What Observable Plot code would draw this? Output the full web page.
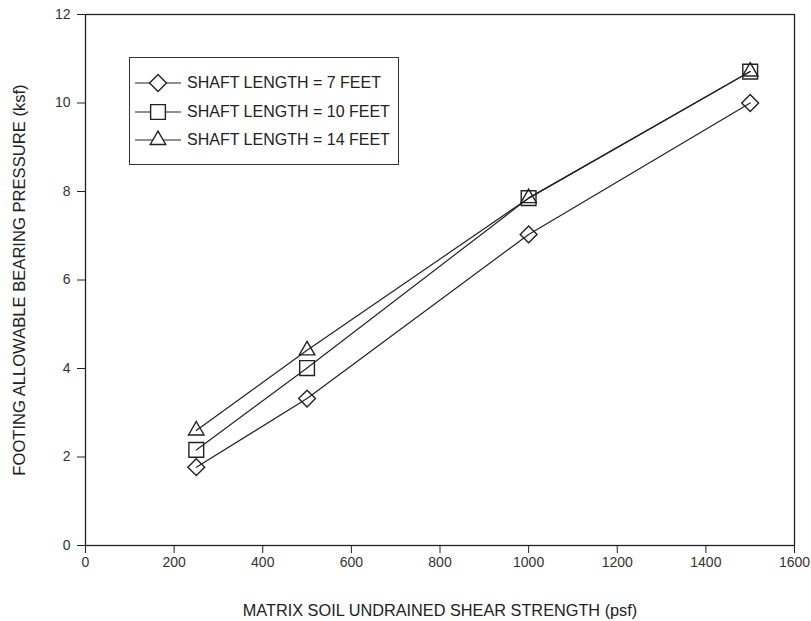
<!DOCTYPE html>
<html>
<head>
<meta charset="utf-8">
<script src="https://cdn.jsdelivr.net/npm/d3@7"></script>
<script src="https://cdn.jsdelivr.net/npm/@observablehq/plot@0.6"></script>
<style>
  body { margin: 0; background: #fff; font-family: "Liberation Sans", Arial, sans-serif; }
  #wrap { position: relative; width: 811px; height: 621px; }
  #legend { position: absolute; left: 129px; top: 57px; width: 270px; height: 108px;
            border: 1px solid #333; background: #fff; box-sizing: border-box; padding-top: 11px; }
  .row { display: flex; align-items: center; height: 28.5px; font-size: 16px; color: #222; }
  .row svg { margin-left: 5px; margin-right: 6px; }
</style>
</head>
<body>
<div id="wrap"><div id="legend"></div></div>
<script>
const strength = [250, 500, 1000, 1500];
const seriesNames = ["SHAFT LENGTH = 7 FEET", "SHAFT LENGTH = 10 FEET", "SHAFT LENGTH = 14 FEET"];
const pressure7 = [1.77, 3.32, 7.03, 10.0];
const pressure10 = [2.16, 4.01, 7.85, 10.71];
const pressure14 = [2.6, 4.41, 7.85, 10.71];
const xTicks = [0, 200, 400, 600, 800, 1000, 1200, 1400, 1600];
const yTicks = [0, 2, 4, 6, 8, 10, 12];
const symbols = ["diamond2", "square2", "triangle2"];
const radii = [7.6, 9.4, 7.4];

const seriesValues = [pressure7, pressure10, pressure14];
const data = seriesValues.flatMap((vals, i) =>
  vals.map((v, j) => ({series: seriesNames[i], x: strength[j], y: v, k: i})));

const ink = "#222";
const chart = Plot.plot({
  width: 811, height: 621,
  marginLeft: 85, marginRight: 17, marginTop: 14, marginBottom: 76,
  style: {fontFamily: "'Liberation Sans', Arial, sans-serif", fontSize: "14px", color: ink, background: "#fff"},
  x: {domain: [0, 1600]},
  y: {domain: [0, 12]},
  marks: [
    Plot.frame({stroke: ink, strokeWidth: 1.3}),
    Plot.axisX({ticks: xTicks, tickFormat: d3.format("d"), tickSize: 8, tickPadding: 4, fontSize: 14, stroke: ink, fill: "#333", label: null}),
    Plot.axisX({ticks: [], label: "MATRIX SOIL UNDRAINED SHEAR STRENGTH (psf)", labelAnchor: "center", labelOffset: 70, labelArrow: "none", fontSize: 16.3, fill: "#222"}),
    Plot.axisY({ticks: yTicks, tickFormat: d3.format("d"), tickSize: 8, tickPadding: 7, fontSize: 14, stroke: ink, fill: "#333", label: null}),
    Plot.axisY({ticks: [], label: "FOOTING ALLOWABLE BEARING PRESSURE (ksf)", labelAnchor: "center", labelOffset: 72, labelArrow: "none", fontSize: 16.6, fill: "#222"}),
    ...seriesNames.map((name, i) => Plot.line(data.filter(d => d.k === i), {x: "x", y: "y", stroke: ink, strokeWidth: 1.2})),
    ...seriesNames.map((name, i) => Plot.dot(data.filter(d => d.k === i), {x: "x", y: "y", symbol: () => symbols[i], r: radii[i], stroke: ink, strokeWidth: 1.4, fill: "none"}))
  ]
});
document.getElementById("wrap").prepend(chart);

// legend
const legend = d3.select("#legend");
seriesNames.forEach((name, i) => {
  const row = legend.append("div").attr("class", "row");
  const svg = row.append("svg").attr("width", 46).attr("height", 24);
  svg.append("line").attr("x1", 0).attr("x2", 46).attr("y1", 12).attr("y2", 12).attr("stroke", ink).attr("stroke-width", 1.2);
  const sym = {diamond2: d3.symbolDiamond2, square2: d3.symbolSquare2, triangle2: d3.symbolTriangle2}[symbols[i]];
  svg.append("path").attr("transform", "translate(23,12)")
    .attr("d", d3.symbol(sym, Math.PI * radii[i] * radii[i])())
    .attr("fill", "#fff").attr("stroke", ink).attr("stroke-width", 1.4);
  row.append("span").text(name);
});
</script>
</body>
</html>
